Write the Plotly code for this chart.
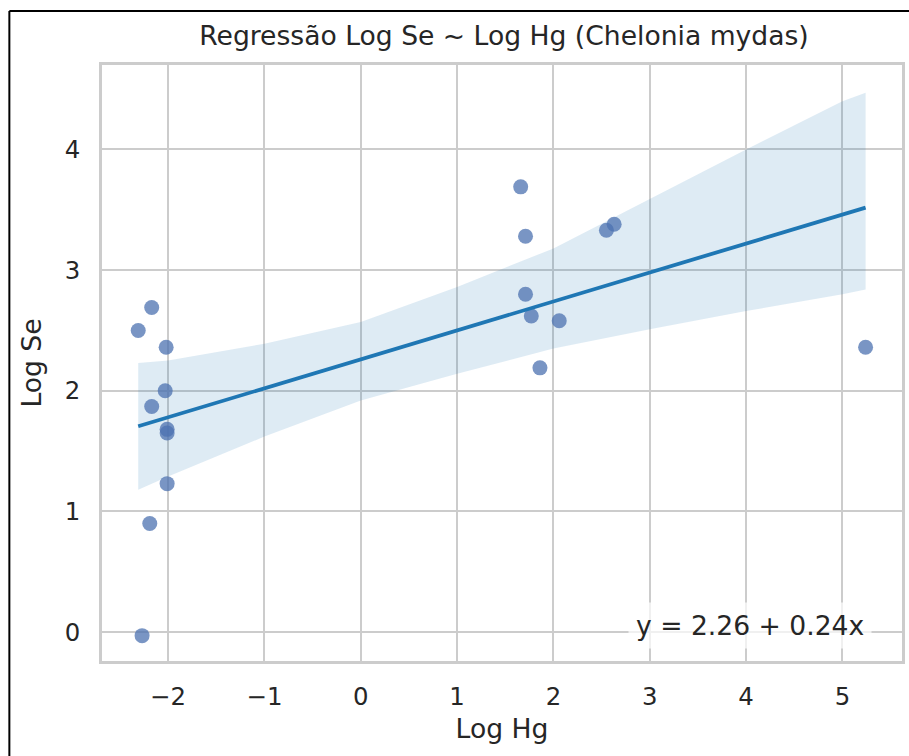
import plotly.graph_objects as go

# Log-transformed concentrations (Chelonia mydas)
log_hg = [-2.31, -2.17, -2.02, -2.03, -2.17, -2.01, -2.01, -2.01, -2.19, -2.27,
          1.66, 1.71, 1.71, 1.77, 2.06, 1.86, 2.55, 2.63, 5.24]
log_se = [2.50, 2.69, 2.36, 2.00, 1.87, 1.68, 1.65, 1.23, 0.90, -0.03,
          3.69, 3.28, 2.80, 2.62, 2.58, 2.19, 3.33, 3.38, 2.36]

# Fitted coefficients
intercept = 2.26
slope = 0.24

# 95% confidence band of the fit
ci_x = [-2.31, -2.0, -1.0, 0.0, 1.0, 2.0, 3.0, 4.0, 5.0, 5.24]
ci_hi = [2.23, 2.25, 2.39, 2.57, 2.86, 3.18, 3.59, 4.00, 4.40, 4.47]
ci_lo = [1.18, 1.29, 1.62, 1.92, 2.14, 2.35, 2.51, 2.66, 2.80, 2.84]

x_ticks = [-2, -1, 0, 1, 2, 3, 4, 5]
y_ticks = [0, 1, 2, 3, 4]

FONT = "DejaVu Sans"
TXT = "#262626"
GRID = "#cccccc"

x_min, x_max = min(log_hg), max(log_hg)
fit_x = [x_min, x_max]
fit_y = [intercept + slope * v for v in fit_x]

fig = go.Figure()

fig.add_trace(go.Scatter(
    x=ci_x + ci_x[::-1], y=ci_hi + ci_lo[::-1],
    fill="toself", fillcolor="rgba(31,119,180,0.15)",
    line=dict(width=0), mode="lines",
    hoverinfo="skip", showlegend=False))

fig.add_trace(go.Scatter(
    x=log_hg, y=log_se, mode="markers",
    marker=dict(size=15, color="#4c72b0", opacity=0.75, line=dict(width=0)),
    showlegend=False))

fig.add_trace(go.Scatter(
    x=fit_x, y=fit_y, mode="lines",
    line=dict(color="#1f77b4", width=3.8), showlegend=False))

axis_common = dict(
    showgrid=True, gridcolor=GRID, gridwidth=1.8,
    zeroline=False, showline=True, mirror=True,
    linecolor=GRID, linewidth=2.5, ticks="",
    tickfont=dict(family=FONT, size=24.4, color=TXT),
    title_font=dict(family=FONT, size=26.6, color=TXT),
)

fig.update_xaxes(range=[-2.686, 5.618], tickvals=x_ticks,
                 ticktext=[f"\u2212{abs(t)}" if t < 0 else str(t) for t in x_ticks],
                 title_text="Log Hg", title_standoff=10, ticklabelstandoff=12,
                 **axis_common)
fig.update_yaxes(range=[-0.24, 4.70], tickvals=y_ticks,
                 ticktext=[str(t) for t in y_ticks],
                 title_text="Log Se", title_standoff=16, ticklabelstandoff=14,
                 **axis_common)

fig.add_annotation(
    xref="paper", yref="paper", x=0.9626, y=0.0604,
    xanchor="right", yanchor="middle",
    text=f"y = {intercept:.2f} + {slope:.2f}x", showarrow=False,
    font=dict(family=FONT, size=26.6, color=TXT),
    bgcolor="rgba(255,255,255,0.7)", borderpad=7)

# figure frame (left and top edges)
fig.add_shape(type="line", xref="paper", yref="paper",
              x0=-0.1158, x1=-0.1158, y0=1.0906, y1=-0.2, line=dict(color="black", width=2))
fig.add_shape(type="line", xref="paper", yref="paper",
              x0=-0.1158, x1=1.05, y0=1.0906, y1=1.0906, line=dict(color="black", width=2))

fig.update_layout(
    width=909, height=756,
    margin=dict(l=102, r=4, t=65, b=95),
    paper_bgcolor="white", plot_bgcolor="white",
    title=dict(text="Regressão Log Se ~ Log Hg (Chelonia mydas)",
               x=(102 + 402) / 909, xanchor="center",
               y=1 - 36 / 756, yanchor="middle", yref="container",
               font=dict(family=FONT, size=26.6, color=TXT)),
)

fig.write_html("out.html")
